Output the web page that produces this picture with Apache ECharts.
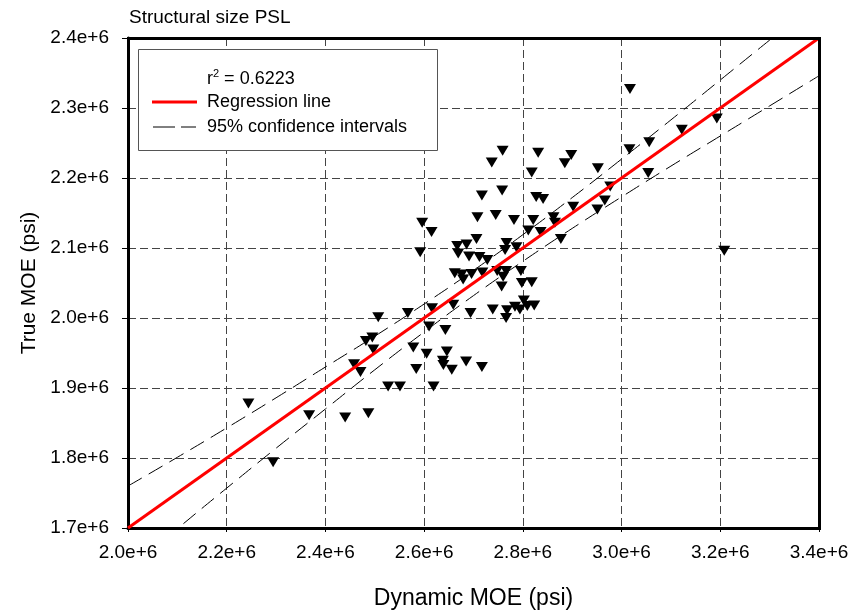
<!DOCTYPE html>
<html>
<head>
<meta charset="utf-8">
<script src="https://cdn.jsdelivr.net/npm/echarts@6/dist/echarts.min.js"></script>
<style>html,body{margin:0;padding:0;background:#fff}#c{width:853px;height:615px}</style>
</head>
<body>
<div id="c"></div>
<script>
// Axis ranges / ticks
var xMin = 2.0e6, xMax = 3.4e6, xStep = 0.2e6;
var yMin = 1.7e6, yMax = 2.4e6, yStep = 0.1e6;

// Scatter data (Dynamic MOE, True MOE) in psi
var dynMOE = [2.244e6,2.294e6,2.367e6,2.440e6,2.487e6,2.507e6,2.567e6,2.616e6,2.659e6,2.662e6,
  2.482e6,2.495e6,2.497e6,2.458e6,2.471e6,2.610e6,2.643e6,2.578e6,2.605e6,2.646e6,
  2.638e6,2.639e6,2.584e6,2.656e6,2.527e6,2.551e6,2.619e6,2.759e6,2.737e6,2.717e6,
  2.758e6,2.708e6,2.745e6,2.782e6,2.596e6,2.615e6,2.592e6,2.667e6,2.686e6,2.706e6,
  2.669e6,2.691e6,2.712e6,2.728e6,2.767e6,2.764e6,2.787e6,2.676e6,2.679e6,2.696e6,
  2.718e6,2.748e6,2.766e6,2.760e6,2.757e6,2.694e6,2.739e6,2.768e6,2.766e6,2.784e6,
  2.685e6,2.717e6,2.831e6,2.898e6,2.885e6,2.818e6,2.952e6,3.016e6,2.827e6,2.841e6,
  2.902e6,2.977e6,2.966e6,2.951e6,2.821e6,2.862e6,2.865e6,2.811e6,2.836e6,2.877e6,
  2.796e6,2.798e6,2.818e6,2.802e6,2.809e6,2.823e6,2.794e6,3.017e6,3.193e6,3.122e6,
  3.056e6,3.054e6,3.208e6];
var trueMOE = [1.878e6,1.794e6,1.861e6,1.858e6,1.864e6,2.001e6,2.007e6,2.014e6,2.019e6,2.064e6,
  1.967e6,1.972e6,1.955e6,1.934e6,1.923e6,1.988e6,1.983e6,1.958e6,1.949e6,1.952e6,
  1.939e6,1.933e6,1.927e6,1.926e6,1.902e6,1.902e6,1.902e6,2.239e6,2.222e6,2.175e6,
  2.182e6,2.144e6,2.147e6,2.140e6,2.136e6,2.123e6,2.094e6,2.103e6,2.105e6,2.113e6,
  2.092e6,2.088e6,2.087e6,2.083e6,2.107e6,2.097e6,2.101e6,2.062e6,2.055e6,2.063e6,
  2.065e6,2.067e6,2.067e6,2.059e6,2.045e6,2.007e6,2.012e6,2.011e6,2.000e6,2.016e6,
  1.938e6,1.930e6,2.236e6,2.233e6,2.221e6,2.208e6,2.214e6,2.241e6,2.173e6,2.170e6,
  2.159e6,2.188e6,2.168e6,2.155e6,2.140e6,2.144e6,2.136e6,2.125e6,2.123e6,2.113e6,
  2.067e6,2.050e6,2.051e6,2.025e6,2.017e6,2.018e6,2.012e6,2.327e6,2.285e6,2.269e6,
  2.251e6,2.207e6,2.096e6];

// Regression line end points
var regX = [2.0e6, 3.4e6];
var regY = [1.7e6, 2.4e6];

// 95% confidence interval curves (read at sample x)
var ciX = [2.0e6,2.1e6,2.2e6,2.3e6,2.4e6,2.5e6,2.6e6,2.7e6,2.8e6,2.9e6,3.0e6,3.1e6,3.2e6,3.3e6,3.4e6];
var ciUpper = [1.760e6,1.801e6,1.843e6,1.886e6,1.930e6,1.974e6,2.020e6,2.068e6,2.119e6,2.172e6,2.227e6,2.283e6,2.340e6,2.397e6,2.454e6];
var ciLower = [1.640e6,1.699e6,1.757e6,1.814e6,1.870e6,1.926e6,1.980e6,2.032e6,2.081e6,2.128e6,2.173e6,2.217e6,2.260e6,2.303e6,2.346e6];

var FONT = '"Liberation Sans", Arial, sans-serif';
function zip(a, b) { return a.map(function (v, i) { return [v, b[i]]; }); }
function fmt(v) { return (v / 1e6).toFixed(1) + 'e+6'; }

var chart = echarts.init(document.getElementById('c'), null, {renderer: 'canvas'});
var gridDash = {type: [8, 4], color: '#444', width: 1};
var option = {
  animation: false,
  backgroundColor: '#fff',
  grid: {left: 128, right: 34, top: 38, bottom: 86, show: false},
  xAxis: {
    type: 'value', min: xMin, max: xMax, interval: xStep,
    name: 'Dynamic MOE (psi)', nameLocation: 'middle', nameGap: 59,
    nameTextStyle: {fontFamily: FONT, fontSize: 23, color: '#000'},
    axisLine: {show: true, onZero: false, lineStyle: {color: '#000', width: 3}},
    axisTick: {show: true, length: 4, lineStyle: {color: '#000'}},
    axisLabel: {fontFamily: FONT, fontSize: 19, color: '#000', margin: 15, formatter: fmt},
    splitLine: {show: true, lineStyle: gridDash}
  },
  yAxis: {
    type: 'value', min: yMin, max: yMax, interval: yStep,
    name: 'True MOE (psi)', nameLocation: 'middle', nameGap: 88,
    nameTextStyle: {fontFamily: FONT, fontSize: 21, color: '#000'},
    axisLine: {show: true, onZero: false, lineStyle: {color: '#000', width: 3}},
    axisTick: {show: true, length: 6, lineStyle: {color: '#000'}},
    axisLabel: {fontFamily: FONT, fontSize: 19, color: '#000', margin: 19, formatter: fmt},
    splitLine: {show: true, lineStyle: gridDash}
  },
  series: [
    {type: 'scatter', data: zip(dynMOE, trueMOE), symbol: 'triangle', symbolRotate: 180,
     symbolSize: [12, 10], itemStyle: {color: '#000', opacity: 1}, z: 3},
    {type: 'line', data: zip(ciX, ciUpper), smooth: true, symbol: 'none',
     lineStyle: {color: '#000', width: 1, type: [16, 8]}, z: 4},
    {type: 'line', data: zip(ciX, ciLower), smooth: true, symbol: 'none',
     lineStyle: {color: '#000', width: 1, type: [16, 8]}, z: 4},
    {type: 'line', data: zip(regX, regY), symbol: 'none',
     lineStyle: {color: '#ff0000', width: 3}, z: 5}
  ],
  graphic: [
    {type: 'text', x: 129, y: 18, style: {text: 'Structural size PSL', fontFamily: FONT, fontSize: 19, fill: '#000', verticalAlign: 'middle'}},
    // top and right frame
    {type: 'line', shape: {x1: 127, y1: 38.5, x2: 821, y2: 38.5}, style: {stroke: '#000', lineWidth: 3}, z: 10},
    {type: 'line', shape: {x1: 819.5, y1: 37, x2: 819.5, y2: 530}, style: {stroke: '#000', lineWidth: 3}, z: 10},
    // legend box
    {type: 'rect', shape: {x: 138.5, y: 49.5, width: 299, height: 101}, style: {fill: '#fff', stroke: '#555', lineWidth: 1}, z: 20},
    {type: 'text', x: 207, y: 78, style: {
      text: '{a|r}{s|2}{a| = 0.6223}', verticalAlign: 'middle',
      rich: {a: {fontFamily: FONT, fontSize: 18, fill: '#000', verticalAlign: 'bottom'},
             s: {fontFamily: FONT, fontSize: 11, fill: '#000', verticalAlign: 'top', padding: [0, 0, 9, 0]}}}, z: 21},
    {type: 'line', shape: {x1: 152, y1: 102, x2: 197, y2: 102}, style: {stroke: '#ff0000', lineWidth: 3}, z: 21},
    {type: 'text', x: 207, y: 102, style: {text: 'Regression line', fontFamily: FONT, fontSize: 18, fill: '#000', verticalAlign: 'middle'}, z: 21},
    {type: 'line', shape: {x1: 153, y1: 127, x2: 175, y2: 127}, style: {stroke: '#000', lineWidth: 1}, z: 21},
    {type: 'line', shape: {x1: 181, y1: 127, x2: 196, y2: 127}, style: {stroke: '#000', lineWidth: 1}, z: 21},
    {type: 'text', x: 207, y: 127, style: {text: '95% confidence intervals', fontFamily: FONT, fontSize: 18, fill: '#000', verticalAlign: 'middle'}, z: 21}
  ]
};
chart.setOption(option);
</script>
</body>
</html>
